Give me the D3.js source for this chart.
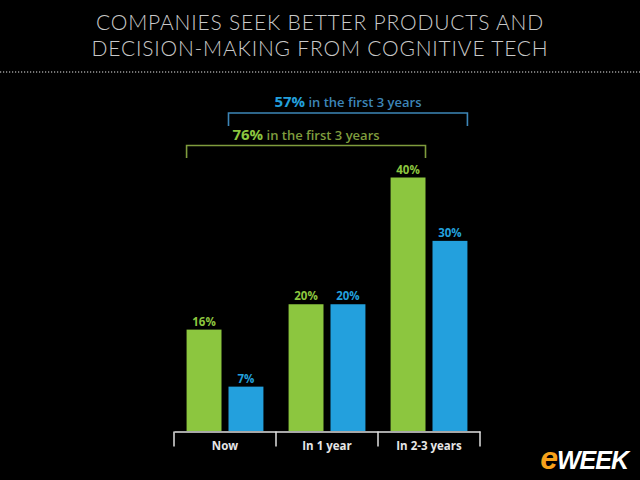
<!DOCTYPE html>
<html>
<head>
<meta charset="utf-8">
<script src="https://cdn.jsdelivr.net/npm/d3@7"></script>
<style>
  html, body { margin: 0; padding: 0; background: #000; }
  svg { display: block; }
</style>
</head>
<body>
<div id="chart"></div>
<script>
// chart data
const categories = ["Now", "In 1 year", "In 2-3 years"];
const seriesNames = ["better products", "decision-making"];
const greenValues = [16, 20, 40];
const blueValues = [7, 20, 30];
const titleLines = ["COMPANIES SEEK BETTER PRODUCTS AND", "DECISION-MAKING FROM COGNITIVE TECH"];
const bracketTotals = ["76%", "57%"];
const bracketText = " in the first 3 years";

const W = 640, H = 480;
const colors = { green: "#8cc63f", blue: "#23a0dd", greenDim: "#7f9c3d", blueDim: "#3d86b8" };

const svg = d3.select("#chart").append("svg")
    .attr("width", W)
    .attr("height", H)
    .style("background", "#000");

// title, two lines
svg.append("g").selectAll("text")
    .data(titleLines)
    .enter().append("text")
    .attr("x", 320)
    .attr("y", (d, i) => 30 + i * 25.5)
    .attr("text-anchor", "middle")
    .attr("fill", "#c9c9c9")
    .style("font-family", "Lato, 'Open Sans', sans-serif")
    .style("font-weight", 300)
    .style("font-size", "21px")
    .style("letter-spacing", "0.8px")
    .text(d => d);

// dotted separator
svg.append("line")
    .attr("x1", 0).attr("x2", W)
    .attr("y1", 72).attr("y2", 72)
    .attr("stroke", "#e8e8e8")
    .attr("stroke-width", 1.2)
    .attr("stroke-dasharray", "1.2,1.8");

// scales
const x0 = d3.scaleBand().domain(categories).range([174, 480]).padding(0);
const x1 = d3.scaleBand().domain(seriesNames).range([0, x0.bandwidth()])
    .paddingInner(0.167).paddingOuter(0.3);
const y = d3.scaleLinear().domain([0, 40]).range([431, 177.5]);

const rows = categories.map((c, i) => ({ cat: c, vals: [greenValues[i], blueValues[i]] }));
const seriesColor = [colors.green, colors.blue];

const groups = svg.append("g").selectAll("g")
    .data(rows)
    .enter().append("g")
    .attr("transform", d => "translate(" + x0(d.cat) + ",0)");

groups.selectAll("rect")
    .data(d => d.vals.map((v, k) => ({ k: k, v: v })))
    .enter().append("rect")
    .attr("x", d => x1(seriesNames[d.k]))
    .attr("width", x1.bandwidth())
    .attr("y", d => y(d.v))
    .attr("height", d => y(0) - y(d.v))
    .attr("fill", d => seriesColor[d.k]);

groups.selectAll("text")
    .data(d => d.vals.map((v, k) => ({ k: k, v: v })))
    .enter().append("text")
    .attr("x", d => x1(seriesNames[d.k]) + x1.bandwidth() / 2)
    .attr("y", d => y(d.v) - 4)
    .attr("text-anchor", "middle")
    .attr("fill", d => seriesColor[d.k])
    .style("font-family", "'Open Sans', sans-serif")
    .style("font-weight", 700)
    .style("font-size", "11.5px")
    .text(d => d.v + "%");

// category axis
const axis = svg.append("g")
    .attr("transform", "translate(0,431.5)")
    .call(d3.axisBottom(x0).tickSize(0).tickPadding(10));
axis.select(".domain").attr("stroke", "#e0e0e0").attr("stroke-width", 1.5);
axis.selectAll(".tick text")
    .attr("fill", "#e6e6e6")
    .style("font-family", "'Open Sans', sans-serif")
    .style("font-weight", 700)
    .style("font-size", "11.5px");
// separator ticks between bands
const edges = categories.map(c => x0(c)).concat([x0.range()[1]]);
axis.selectAll("line.sep")
    .data(edges)
    .enter().append("line")
    .attr("class", "sep")
    .attr("x1", d => d).attr("x2", d => d)
    .attr("y1", 0).attr("y2", 15)
    .attr("stroke", "#e0e0e0")
    .attr("stroke-width", 1.5);

// brackets
const brackets = [
  { total: bracketTotals[0], k: 0, yLine: 145.5, yEnd: 158, color: colors.green, dim: colors.greenDim },
  { total: bracketTotals[1], k: 1, yLine: 113, yEnd: 126, color: colors.blue, dim: colors.blueDim }
];
brackets.forEach(b => {
  const xa = x0(categories[0]) + x1(seriesNames[b.k]);
  const xb = x0(categories[2]) + x1(seriesNames[b.k]) + x1.bandwidth();
  svg.append("path")
      .attr("d", "M" + xa + "," + b.yEnd + "V" + b.yLine + "H" + xb + "V" + b.yEnd)
      .attr("fill", "none")
      .attr("stroke", b.dim)
      .attr("stroke-width", 1.6);
  const t = svg.append("text")
      .attr("x", (xa + xb) / 2)
      .attr("y", b.yLine - 6)
      .attr("text-anchor", "middle")
      .style("font-family", "'Open Sans', sans-serif");
  t.append("tspan")
      .attr("fill", b.color)
      .style("font-weight", 700)
      .style("font-size", "15px")
      .text(b.total);
  t.append("tspan")
      .attr("fill", b.dim)
      .style("font-weight", 600)
      .style("font-size", "13px")
      .text(bracketText);
});

// logo
const logo = svg.append("text")
    .attr("x", 628)
    .attr("y", 469)
    .attr("text-anchor", "end")
    .style("font-family", "'Liberation Sans', Arial, sans-serif")
    .style("font-weight", 700)
    .style("font-style", "italic")
    .style("font-size", "25px")
    .style("letter-spacing", "-1px");
logo.append("tspan").attr("fill", "#f7a21b").style("font-size", "32px").text("e");
logo.append("tspan").attr("fill", "#ffffff").text("WEEK");
</script>
</body>
</html>
